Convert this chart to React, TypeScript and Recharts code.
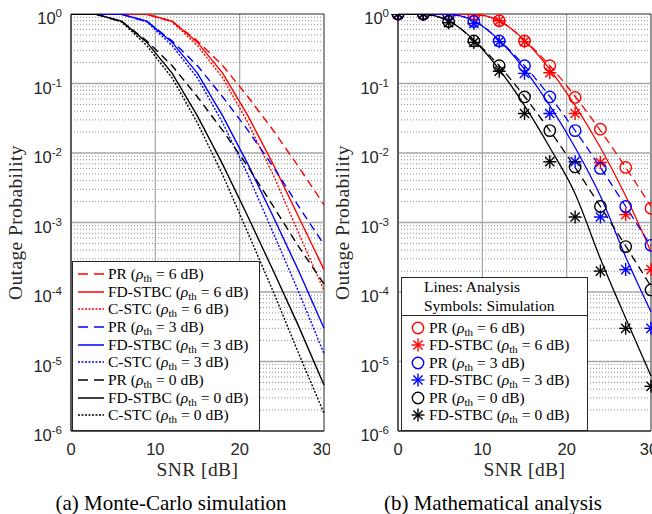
import React from "react";
import { LineChart, Line, XAxis, YAxis, CartesianGrid, ReferenceArea, ReferenceLine } from "recharts";

const snr = [0, 3, 6, 9, 12, 15, 18, 21, 24, 27, 30];
const xTicks = [0, 10, 20, 30];
const yTicks = [1, 1e-1, 1e-2, 1e-3, 1e-4, 1e-5, 1e-6];

// (a) Monte-Carlo simulation
const prSim6 = [1, 1, 1, 0.99, 0.78, 0.41, 0.18, 0.064, 0.021, 0.0063, 0.0018];
const fdSim6 = [1, 1, 1, 0.99, 0.79, 0.39, 0.14, 0.034, 0.0068, 0.0012, 2.1e-4];
const csSim6 = [1, 1, 1, 0.99, 0.77, 0.35, 0.12, 0.027, 0.0048, 7.0e-4, 1.05e-4];
const prSim3 = [1, 1, 0.99, 0.78, 0.41, 0.18, 0.064, 0.021, 0.0063, 0.0017, 4.8e-4];
const fdSim3 = [1, 1, 0.99, 0.79, 0.39, 0.14, 0.034, 0.0068, 0.0012, 2.0e-4, 3.0e-5];
const csSim3 = [1, 1, 0.99, 0.77, 0.35, 0.12, 0.027, 0.0048, 7.0e-4, 1.0e-4, 1.3e-5];
const prSim0 = [1, 0.99, 0.78, 0.41, 0.18, 0.064, 0.021, 0.0063, 0.0017, 4.5e-4, 1.3e-4];
const fdSim0 = [1, 0.99, 0.79, 0.39, 0.14, 0.034, 0.0068, 0.0012, 2.0e-4, 3.2e-5, 4.6e-6];
const csSim0 = [1, 0.99, 0.77, 0.35, 0.12, 0.027, 0.0048, 7.0e-4, 1.0e-4, 1.3e-5, 1.8e-6];

// (b) analysis lines
const prAna6 = [1, 1, 1, 0.98, 0.8, 0.42, 0.18, 0.065, 0.021, 0.0062, 0.0017];
const fdAna6 = [1, 1, 1, 0.99, 0.8, 0.42, 0.16, 0.048, 0.012, 0.0024, 3.8e-4];
const prAna3 = [1, 1, 0.98, 0.8, 0.42, 0.18, 0.065, 0.021, 0.0062, 0.0017, 4.6e-4];
const fdAna3 = [1, 1, 0.99, 0.8, 0.42, 0.16, 0.048, 0.012, 0.0024, 3.2e-4, 5.2e-5];
const prAna0 = [1, 0.98, 0.8, 0.42, 0.18, 0.065, 0.021, 0.0062, 0.0017, 4.6e-4, 1.2e-4];
const fdAna0 = [1, 0.99, 0.8, 0.42, 0.16, 0.048, 0.012, 0.0026, 3.0e-4, 4.2e-5, 6.2e-6];

// (b) simulation symbols
const prMark6 = [1, 1, 1, 0.99, 0.8, 0.41, 0.18, 0.063, 0.022, 0.0062, 0.0016];
const fdMark6 = [1, 1, 1, 1, 0.8, 0.4, 0.143, 0.037, 0.0073, 0.0013, 2.1e-4];
const prMark3 = [1, 1, 1, 0.78, 0.41, 0.18, 0.064, 0.021, 0.006, 0.0017, 4.7e-4];
const fdMark3 = [1, 1, 1, 0.73, 0.4, 0.14, 0.037, 0.0075, 0.0012, 2.1e-4, 3.0e-5];
const prMark0 = [1, 1, 0.78, 0.41, 0.18, 0.064, 0.021, 0.0063, 0.0017, 4.5e-4, 1.07e-4];
const fdMark0 = [1, 1, 0.75, 0.39, 0.15, 0.037, 0.0075, 0.0012, 2.0e-4, 3.0e-5, 4.4e-6];

const RED = "#ff0000";
const BLUE = "#0000ff";
const BLACK = "#000000";
const AX = "#262626";
const SANS = "'Liberation Sans', Arial, sans-serif";
const SERIF = "'Liberation Serif', 'Times New Roman', serif";
const DASH = "8 5";
const DOT = "2 1.6";

const mcData = snr.map((s, i) => ({
  snr: s,
  pr6: prSim6[i], fd6: fdSim6[i], cs6: csSim6[i],
  pr3: prSim3[i], fd3: fdSim3[i], cs3: csSim3[i],
  pr0: prSim0[i], fd0: fdSim0[i], cs0: csSim0[i],
}));

const anData = snr.map((s, i) => ({
  snr: s,
  apr6: prAna6[i], afd6: fdAna6[i], apr3: prAna3[i], afd3: fdAna3[i], apr0: prAna0[i], afd0: fdAna0[i],
  mpr6: prMark6[i], mfd6: fdMark6[i], mpr3: prMark3[i], mfd3: fdMark3[i], mpr0: prMark0[i], mfd0: fdMark0[i],
}));

const majorY = [1e-1, 1e-2, 1e-3, 1e-4, 1e-5];
const minorY: number[] = [];
for (let k = -6; k < 0; k++) for (let m = 2; m <= 9; m++) minorY.push(m * Math.pow(10, k));

const mcLines = [
  { key: "pr6", color: RED, dash: DASH, name: "PR", th: 6 },
  { key: "fd6", color: RED, dash: undefined, name: "FD-STBC", th: 6 },
  { key: "cs6", color: RED, dash: DOT, name: "C-STC", th: 6 },
  { key: "pr3", color: BLUE, dash: DASH, name: "PR", th: 3 },
  { key: "fd3", color: BLUE, dash: undefined, name: "FD-STBC", th: 3 },
  { key: "cs3", color: BLUE, dash: DOT, name: "C-STC", th: 3 },
  { key: "pr0", color: BLACK, dash: DASH, name: "PR", th: 0 },
  { key: "fd0", color: BLACK, dash: undefined, name: "FD-STBC", th: 0 },
  { key: "cs0", color: BLACK, dash: DOT, name: "C-STC", th: 0 },
];

const anLines = [
  { key: "apr6", color: RED, dash: DASH },
  { key: "afd6", color: RED, dash: undefined },
  { key: "apr3", color: BLUE, dash: DASH },
  { key: "afd3", color: BLUE, dash: undefined },
  { key: "apr0", color: BLACK, dash: DASH },
  { key: "afd0", color: BLACK, dash: undefined },
];

const marks = [
  { key: "mpr6", color: RED, shape: "o", name: "PR", th: 6 },
  { key: "mfd6", color: RED, shape: "*", name: "FD-STBC", th: 6 },
  { key: "mpr3", color: BLUE, shape: "o", name: "PR", th: 3 },
  { key: "mfd3", color: BLUE, shape: "*", name: "FD-STBC", th: 3 },
  { key: "mpr0", color: BLACK, shape: "o", name: "PR", th: 0 },
  { key: "mfd0", color: BLACK, shape: "*", name: "FD-STBC", th: 0 },
];

const Marker = ({ cx, cy, color, shape }: any) => {
  if (shape === "o") {
    return <circle cx={cx} cy={cy} r={5.7} fill="none" stroke={color} strokeWidth={1.4} />;
  }
  const a = 6.5;
  const b = 4.6;
  return (
    <g stroke={color} strokeWidth={1.4}>
      <line x1={cx - a} y1={cy} x2={cx + a} y2={cy} />
      <line x1={cx} y1={cy - a} x2={cx} y2={cy + a} />
      <line x1={cx - b} y1={cy - b} x2={cx + b} y2={cy + b} />
      <line x1={cx - b} y1={cy + b} x2={cx + b} y2={cy - b} />
    </g>
  );
};

const YTick = ({ x, y, payload }: any) => {
  const e = Math.round(Math.log10(payload.value));
  return (
    <text x={x - 9} y={y + 10} textAnchor="end" fontFamily={SANS} fontSize={16.5} fill={AX}>
      <tspan>10</tspan>
      <tspan dy={-7} fontSize={11.5}>{String(e)}</tspan>
    </text>
  );
};

const XTick = ({ x, y, payload }: any) => (
  <text x={x} y={y + 24} textAnchor="middle" fontFamily={SANS} fontSize={16.5} fill={AX}>
    {payload.value}
  </text>
);

const XLabel = ({ viewBox }: any) => (
  <text x={viewBox.x + viewBox.width / 2} y={viewBox.y + 45} textAnchor="middle" fontFamily={SERIF} fontSize={19.5} fill={AX} letterSpacing={0.4}>
    SNR [dB]
  </text>
);

const YLabel = () => (
  <text x={15.5} y={222.5} transform="rotate(-90 15.5 222.5)" textAnchor="middle" dominantBaseline="central" fontFamily={SERIF} fontSize={19.5} fill={AX} letterSpacing={0.4}>
    Outage Probability
  </text>
);

const Rho = ({ name, th }: { name: string; th: number }) => (
  <span>
    {name} (<i>ρ</i>
    <span style={{ fontSize: 11, verticalAlign: -3, lineHeight: 0 }}>th</span>
    <span style={{ margin: "0 4px" }}>=</span>
    {th} dB)
  </span>
);

const renderGrid = () => [
  <CartesianGrid key="major" horizontal={false} verticalValues={[10, 20]} stroke="#a6a6a6" strokeWidth={1.2} />,
  ...minorY.map((v) => (
    <ReferenceLine key={`mn${v}`} y={v} stroke="#8c8c8c" strokeWidth={1} strokeDasharray="1 2" ifOverflow="hidden" />
  )),
  ...majorY.map((v) => (
    <ReferenceLine key={`mj${v}`} y={v} stroke="#a6a6a6" strokeWidth={1.6} ifOverflow="hidden" />
  )),
];

const frame = (
  <ReferenceArea x1={0} x2={30} y1={1e-6} y2={1} fill="none" fillOpacity={0} stroke={AX} strokeWidth={1} ifOverflow="visible" />
);

const chartProps = {
  width: 330,
  height: 490,
  margin: { top: 14, right: 6, bottom: 0, left: 0 },
};

const MonteCarlo = () => (
  <LineChart {...chartProps} data={mcData}>
    {renderGrid()}
    <XAxis dataKey="snr" type="number" domain={[0, 30]} ticks={xTicks} height={59} tickSize={0} tickMargin={0} axisLine={{ stroke: AX }} tick={<XTick />} label={<XLabel />} />
    <YAxis type="number" scale="log" domain={[1e-6, 1]} allowDataOverflow ticks={yTicks} width={71} tickSize={0} tickMargin={0} axisLine={{ stroke: AX }} tick={<YTick />} label={<YLabel />} />
    {mcLines.map((l) => (
      <Line key={l.key} dataKey={l.key} type="linear" stroke={l.color} strokeWidth={1.4} strokeDasharray={l.dash} dot={false} activeDot={false} isAnimationActive={false} />
    ))}
    {frame}
  </LineChart>
);

const Analysis = () => (
  <LineChart {...chartProps} data={anData}>
    {renderGrid()}
    <XAxis dataKey="snr" type="number" domain={[0, 30]} ticks={xTicks} height={59} tickSize={0} tickMargin={0} axisLine={{ stroke: AX }} tick={<XTick />} label={<XLabel />} />
    <YAxis type="number" scale="log" domain={[1e-6, 1]} allowDataOverflow ticks={yTicks} width={71} tickSize={0} tickMargin={0} axisLine={{ stroke: AX }} tick={<YTick />} label={<YLabel />} />
    {anLines.map((l) => (
      <Line key={l.key} dataKey={l.key} type="monotone" stroke={l.color} strokeWidth={1.3} strokeDasharray={l.dash} dot={false} activeDot={false} isAnimationActive={false} />
    ))}
    {marks.map((m) => (
      <Line
        key={m.key}
        dataKey={m.key}
        stroke="none"
        activeDot={false}
        isAnimationActive={false}
        dot={(p: any) => <Marker key={`${m.key}-${p.index}`} cx={p.cx} cy={p.cy} color={m.color} shape={m.shape} />}
      />
    ))}
    {frame}
  </LineChart>
);

const legendBox: React.CSSProperties = {
  position: "absolute",
  background: "#fff",
  border: `1px solid ${AX}`,
  boxSizing: "border-box",
  fontFamily: SERIF,
  fontSize: 15.5,
  color: "#000",
};

const rowStyle: React.CSSProperties = {
  display: "flex",
  alignItems: "center",
  height: 17.7,
  whiteSpace: "nowrap",
};

export default function App() {
  return (
    <div style={{ position: "fixed", left: 0, top: 0, width: 652, height: 514, overflow: "hidden", background: "#fff" }}>
      <div style={{ position: "absolute", left: 0, top: 0 }}>
        <MonteCarlo />
      </div>
      <div style={{ position: "absolute", left: 327, top: 0 }}>
        <Analysis />
      </div>

      <div style={{ ...legendBox, left: 72, top: 261, width: 188, height: 170, paddingTop: 3 }}>
        {mcLines.map((l) => (
          <div key={l.key} style={rowStyle}>
            <svg width={27} height={10} style={{ marginLeft: 5, marginRight: 3 }}>
              <line x1={0} y1={5} x2={26} y2={5} stroke={l.color} strokeWidth={1.5} strokeDasharray={l.dash ? (l.dash === DASH ? "10 6" : "2 1.5") : undefined} />
            </svg>
            <Rho name={l.name} th={l.th} />
          </div>
        ))}
      </div>

      <div style={{ ...legendBox, left: 401, top: 277, width: 187, height: 154 }}>
        <div style={{ paddingLeft: 22, marginTop: -1, lineHeight: "19px" }}>
          <div>Lines: Analysis</div>
          <div>Symbols: Simulation</div>
        </div>
        <div style={{ borderTop: `1px solid ${AX}`, marginTop: 0, paddingTop: 3 }}>
          {marks.map((m) => (
            <div key={m.key} style={{ ...rowStyle, height: 17.5 }}>
              <svg width={16} height={16} style={{ marginLeft: 8, marginRight: 3 }}>
                <Marker cx={8} cy={8} color={m.color} shape={m.shape} />
              </svg>
              <Rho name={m.name} th={m.th} />
            </div>
          ))}
        </div>
      </div>

      <div style={{ position: "absolute", left: 21, top: 491, width: 300, textAlign: "center", fontFamily: SERIF, fontSize: 21, lineHeight: "24px" }}>
        (a) Monte-Carlo simulation
      </div>
      <div style={{ position: "absolute", left: 343, top: 491, width: 300, textAlign: "center", fontFamily: SERIF, fontSize: 21, lineHeight: "24px" }}>
        (b) Mathematical analysis
      </div>
    </div>
  );
}
